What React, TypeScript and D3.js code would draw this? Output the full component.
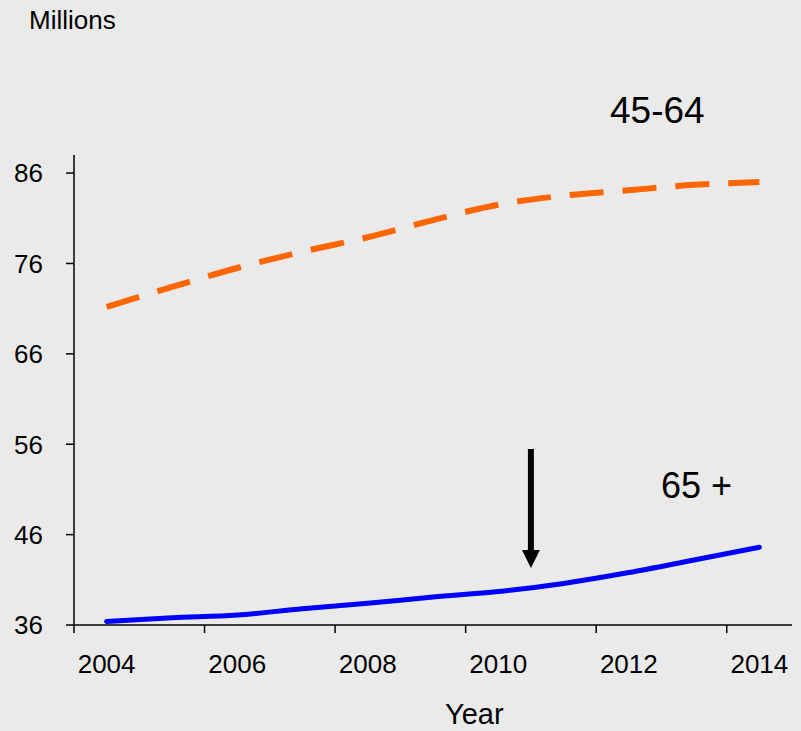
import React from "react";
import * as d3 from "d3";

const years = [2004, 2005, 2006, 2007, 2008, 2009, 2010, 2011, 2012, 2013, 2014];
const age4564 = [71.2, 73.4, 75.5, 77.3, 78.9, 80.8, 82.5, 83.5, 84.1, 84.7, 85.0];
const age65plus = [36.4, 36.8, 37.1, 37.8, 38.4, 39.1, 39.7, 40.6, 41.8, 43.2, 44.6];
const yTicks = [36, 46, 56, 66, 76, 86];
const xTickLabels = [2004, 2006, 2008, 2010, 2012, 2014];

const W = 801;
const H = 731;
const FONT = "'Liberation Sans', Arial, Helvetica, sans-serif";

export default function App() {
  const x = d3.scaleBand<number>().domain(years).range([74, 792]).padding(0);
  const bw = x.bandwidth();
  const cx = (yr: number) => (x(yr) as number) + bw / 2;
  const y = d3.scaleLinear().domain([36, 88]).range([625, 155]);

  const line = d3
    .line<number>()
    .x((_, i) => cx(years[i]))
    .y((v) => y(v))
    .curve(d3.curveMonotoneX);

  const arrowX = cx(2010) + 0.5 * bw;

  return (
    <svg
      width={W}
      height={H}
      style={{ position: "absolute", left: 0, top: 0, background: "#eaeaea" }}
      fontFamily={FONT}
    >
      <rect x={0} y={0} width={W} height={H} fill="#eaeaea" />
      <text x={29} y={28.5} fontSize={26} fill="#000">Millions</text>

      {/* axes */}
      <line x1={74} x2={74} y1={155} y2={625} stroke="#000" strokeWidth={1.5} />
      <line x1={74} x2={792} y1={625} y2={625} stroke="#000" strokeWidth={1.5} />
      {yTicks.map((t) => (
        <g key={t}>
          <line x1={66} x2={74} y1={y(t)} y2={y(t)} stroke="#000" strokeWidth={1.5} />
          <text x={43} y={y(t)} dy="0.36em" textAnchor="end" fontSize={26} fill="#000">
            {t}
          </text>
        </g>
      ))}
      {xTickLabels.map((t) => (
        <g key={t}>
          <line x1={x(t) as number} x2={x(t) as number} y1={625} y2={633} stroke="#000" strokeWidth={1.5} />
          <text x={cx(t)} y={673} textAnchor="middle" fontSize={26} fill="#000">
            {t}
          </text>
        </g>
      ))}
      <text x={445} y={724} fontSize={29} fill="#000">Year</text>

      {/* series */}
      <path
        d={line(age4564) || ""}
        fill="none"
        stroke="#ff6600"
        strokeWidth={6}
        strokeDasharray="34 19"
      />
      <path d={line(age65plus) || ""} fill="none" stroke="#0000ff" strokeWidth={5} strokeLinecap="round" />

      {/* labels */}
      <text x={610} y={123} fontSize={37} fill="#000">45-64</text>
      <text x={661} y={498} fontSize={36} fill="#000">65 +</text>

      {/* arrow */}
      <line x1={arrowX} x2={arrowX} y1={449} y2={552} stroke="#000" strokeWidth={6} />
      <path
        d={`M${arrowX - 9},550 L${arrowX + 9},550 L${arrowX},568 Z`}
        fill="#000"
      />
    </svg>
  );
}
